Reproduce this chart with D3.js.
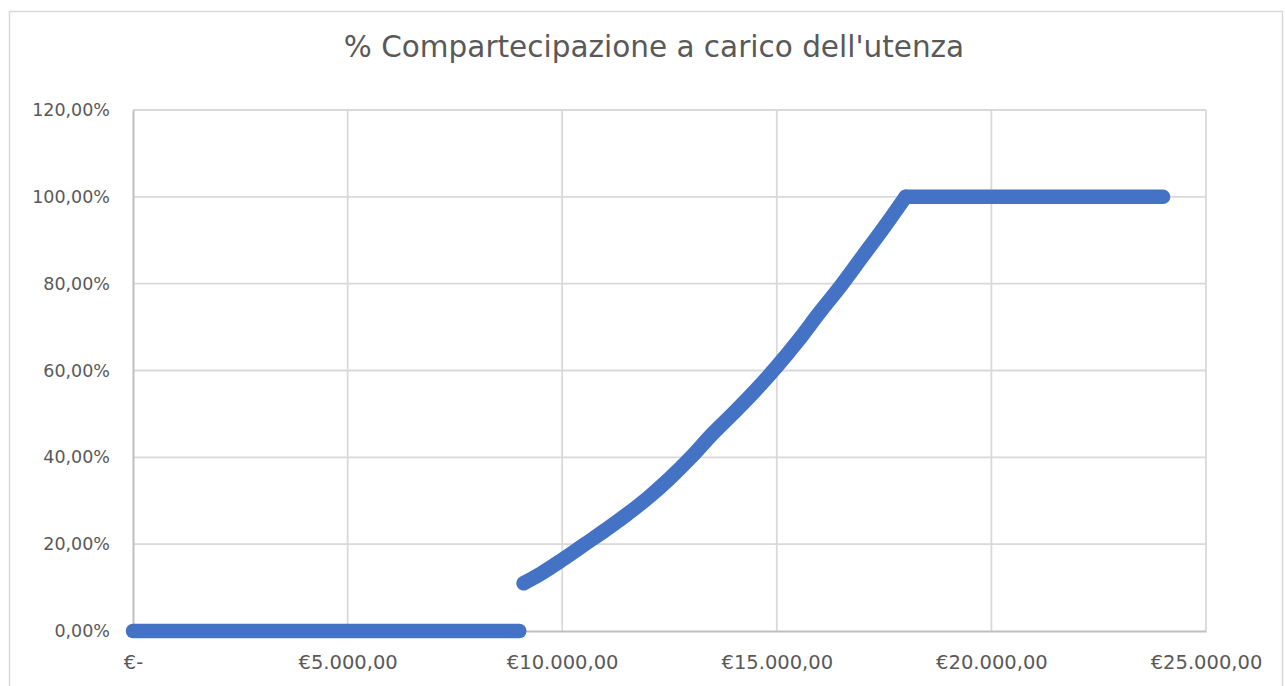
<!DOCTYPE html>
<html>
<head>
<meta charset="utf-8">
<script src="https://cdn.jsdelivr.net/npm/d3@7"></script>
<style>
  body { margin: 0; background: #fff; }
  .tick-label { font-family: "DejaVu Sans", sans-serif; font-size: 17.5px; fill: #595959; }
  .x-label { font-size: 19.5px; }
  .plotTitle { font-family: "DejaVu Sans", sans-serif; font-size: 29.5px; fill: #595959; }
</style>
</head>
<body>
<svg id="main" width="1285" height="686"></svg>
<script>
// values (reddito in €, quota a carico in frazione)
const xEsente = [0, 9000]
const yEsente = [0, 0]

const xProgressiva = [9100, 9500, 10000, 10500, 11000, 11500, 12000, 12500, 13000,
                      13500, 14000, 14500, 15000, 15500, 16000, 16500, 17000, 17500, 18000]
const yProgressiva = [0.110, 0.132, 0.164, 0.198, 0.232, 0.268, 0.307, 0.351, 0.400,
                      0.454, 0.503, 0.554, 0.609, 0.669, 0.734, 0.796, 0.863, 0.930, 1.000]

const xPiena = [18000, 24000]
const yPiena = [1, 1]

const xTicks = [0, 5000, 10000, 15000, 20000, 25000]
const yTicks = [0, 0.2, 0.4, 0.6, 0.8, 1.0, 1.2]

const title = "% Compartecipazione a carico dell'utenza"

const it = d3.formatLocale({decimal: ",", thousands: ".", grouping: [3], currency: ["€", ""]})
const fmtEuro = d => d === 0 ? "€-" : "€" + it.format(",.2f")(d)
const fmtPct = it.format(".2%")

let svg = d3.select("#main")

// chart frame
svg.append("rect")
    .attr("x", 9.5).attr("y", 11.5)
    .attr("width", 1273).attr("height", 700)
    .attr("fill", "none").attr("stroke", "#d9d9d9").attr("stroke-width", 1.5)

let xScale = d3.scaleLinear().domain([0, 25000]).range([133, 1206])
let yScale = d3.scaleLinear().domain([0, 1.2]).range([631, 110])

// grid
svg.append("g")
    .selectAll("line")
    .data(xTicks.filter(d => d > 0))
    .enter().append("line")
    .attr("x1", d => xScale(d)).attr("x2", d => xScale(d))
    .attr("y1", yScale(1.2)).attr("y2", yScale(0))
    .attr("stroke", "#d9d9d9").attr("stroke-width", 1.8)

svg.append("g")
    .selectAll("line")
    .data(yTicks.filter(d => d > 0))
    .enter().append("line")
    .attr("x1", xScale(0)).attr("x2", xScale(25000))
    .attr("y1", d => yScale(d)).attr("y2", d => yScale(d))
    .attr("stroke", "#d9d9d9").attr("stroke-width", 1.8)

// axes
let x_axis = d3.axisBottom(xScale).tickValues(xTicks).tickFormat(fmtEuro).tickSize(0)
let y_axis = d3.axisLeft(yScale).tickValues(yTicks).tickFormat(fmtPct).tickSize(0).tickPadding(23)

let gx = svg.append("g").attr("transform", `translate(0,${yScale(0)})`).call(x_axis)
gx.select(".domain").attr("stroke", "#bfbfbf").attr("stroke-width", 2)
gx.selectAll("text").attr("class", "tick-label x-label").attr("fill", null)
    .attr("y", 38).attr("dy", null)

let gy = svg.append("g").attr("transform", `translate(${xScale(0)},0)`).call(y_axis)
gy.select(".domain").attr("stroke", "#bfbfbf").attr("stroke-width", 2)
gy.selectAll("text").attr("class", "tick-label").attr("fill", null)

// series: dense markers rendered as a thick round band
let segments = [
    [xEsente, yEsente, d3.curveLinear],
    [xProgressiva, yProgressiva, d3.curveMonotoneX],
    [xPiena, yPiena, d3.curveLinear]
]

segments.forEach(([xs, ys, curve]) => {
    let line = d3.line()
        .x((d, i) => xScale(xs[i]))
        .y((d, i) => yScale(ys[i]))
        .curve(curve)
    svg.append("path")
        .datum(xs)
        .attr("d", line)
        .attr("fill", "none")
        .attr("stroke", "#4472c4")
        .attr("stroke-width", 14.5)
        .attr("stroke-linecap", "round")
        .attr("stroke-linejoin", "round")
})

// Title
svg.append("text")
    .attr("class", "plotTitle")
    .attr("x", 654)
    .attr("y", 57)
    .attr("text-anchor", "middle")
    .text(title)
</script>
</body>
</html>
